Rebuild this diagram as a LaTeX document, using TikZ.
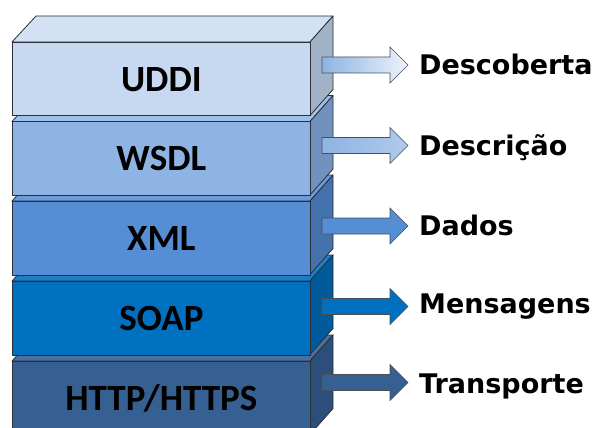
\documentclass[tikz,border=0pt]{standalone}
\usepackage{fontspec}
\setmainfont{DejaVu Sans}
\newfontfamily\layerfont{Carlito}

% layer colours: front, top, side
\definecolor{uddiF}{HTML}{C6D9F1}\definecolor{uddiT}{HTML}{D2E1F4}\definecolor{uddiS}{HTML}{A2B3C8}
\definecolor{wsdlF}{HTML}{8EB4E3}\definecolor{wsdlT}{HTML}{9EC0E9}\definecolor{wsdlS}{HTML}{7192BC}
\definecolor{xmlF}{HTML}{558ED5}\definecolor{xmlT}{HTML}{6A9CDB}\definecolor{xmlS}{HTML}{4472AC}
\definecolor{soapF}{HTML}{0070C0}\definecolor{soapT}{HTML}{1A7FC8}\definecolor{soapS}{HTML}{005A9C}
\definecolor{httpF}{HTML}{376092}\definecolor{httpT}{HTML}{4A70A0}\definecolor{httpS}{HTML}{2C4E7A}
\definecolor{edgegray}{HTML}{2A2F38}

% one layer of the stack: #1 name, #2 top y of the front face, #3 prefix of its colours, #4 label
\newcommand\drawlayer[4]{%
  \draw[edge, fill=#3T] (12,#2) -- (310,#2) -- (333,{#2-26}) -- (36,{#2-26}) -- cycle;
  \draw[edge, fill=#3S] (310,#2) -- (333,{#2-26}) -- (333,{#2+47.5}) -- (310,{#2+73.5}) -- cycle;
  \node[edge, fill=#3F, layerbox] (#1) at (12,#2) {#4};
}

% block arrow centred at y = #1, filled with style #2, label #3 on baseline #4, label name #5
\newcommand\drawflow[5]{%
  \coordinate (#5-tip) at (408,#1);
  \path[#2] (322,{#1-8}) -- (390,{#1-8}) -- (390,{#1-18}) -- (#5-tip)
        -- (390,{#1+18}) -- (390,{#1+8}) -- (322,{#1+8}) -- cycle;
  \draw[arrowedge] (322,{#1-8}) -- (390,{#1-8}) -- (390,{#1-18}) -- (#5-tip)
        -- (390,{#1+18}) -- (390,{#1+8}) -- (322,{#1+8}) -- cycle;
  \node[roletext] (#5) at (419,#4) {#3};
}

\begin{document}
\begin{tikzpicture}[x=1pt,y=-1pt,
  edge/.style={draw=edgegray, line width=0.8pt, line join=round},
  arrowedge/.style={draw=edgegray!85, line width=0.6pt, line join=miter},
  layerbox/.style={anchor=north west, inner sep=0pt, minimum width=298pt,
    minimum height=73.5pt, text height=23.8pt, text depth=0pt,
    font=\layerfont\bfseries\fontsize{37}{40}\selectfont},
  roletext/.style={anchor=base west, inner sep=0pt,
    font=\bfseries\fontsize{27}{30}\selectfont}]
\useasboundingbox (0,0) rectangle (595,428);
\clip (0,0) rectangle (595,428);

% stack, drawn from the bottom layer up
\drawlayer{http}{361}{http}{HTTP/HTTPS}
\drawlayer{soap}{281}{soap}{SOAP}
\drawlayer{xml}{201}{xml}{XML}
\drawlayer{wsdl}{121.5}{wsdl}{WSDL}
\drawlayer{uddi}{42}{uddi}{UDDI}

% roles of the layers
\drawflow{65}{left color=wsdlF, right color=uddiT!40}{Descoberta}{75}{descoberta}
\drawflow{145.5}{left color=wsdlF, right color=wsdlF!70}{Descrição}{155}{descricao}
\drawflow{226}{fill=xmlF}{Dados}{235}{dados}
\drawflow{306.5}{fill=soapF}{Mensagens}{313}{mensagens}
\drawflow{382.5}{fill=httpF}{Transporte}{393}{transporte}
\end{tikzpicture}
\end{document}
